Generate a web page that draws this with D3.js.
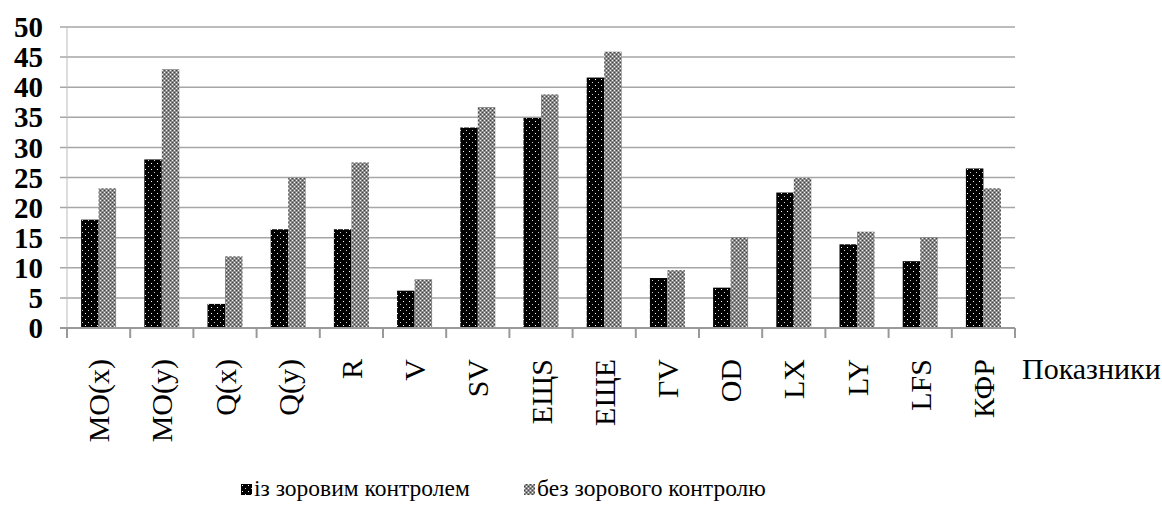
<!DOCTYPE html>
<html><head><meta charset="utf-8">
<script src="https://cdn.jsdelivr.net/npm/d3@7"></script>
<style>body{margin:0;background:#fff}svg{display:block}text{font-family:'Liberation Serif','DejaVu Serif',serif}</style>
</head><body>
<svg id="c" width="1162" height="506"></svg>
<script>
const categories = ["MO(x)","MO(y)","Q(x)","Q(y)","R","V","SV","ЕЩS","ЕЩЕ","ГV","OD","LX","LY","LFS","КФР"];
const withControl = [18, 28, 4, 16.4, 16.4, 6.2, 33.3, 34.9, 41.6, 8.3, 6.7, 22.5, 13.9, 11.1, 26.5];
const withoutControl = [23.2, 43, 11.9, 25, 27.5, 8.1, 36.7, 38.8, 45.9, 9.6, 15.1, 24.9, 16, 15.1, 23.2];
const seriesNames = ["із зоровим контролем", "без зорового контролю"];
const yTicks = [0,5,10,15,20,25,30,35,40,45,50];
const xTitle = "Показники";

const svg = d3.select("#c");
const m = {l:67, r:1015, t:27, b:328};

const defs = svg.append("defs");
const p1 = defs.append("pattern").attr("id","pBlack").attr("patternUnits","userSpaceOnUse").attr("width",6).attr("height",6);
p1.append("rect").attr("width",6).attr("height",6).attr("fill","#000");
p1.append("rect").attr("x",1).attr("y",1).attr("width",1).attr("height",1).attr("fill","#fff");
p1.append("rect").attr("x",4).attr("y",4).attr("width",1).attr("height",1).attr("fill","#ccc");
const p2 = defs.append("pattern").attr("id","pGray").attr("patternUnits","userSpaceOnUse").attr("width",4).attr("height",4);
p2.append("rect").attr("width",4).attr("height",4).attr("fill","#8a8a8a");
p2.append("rect").attr("x",0).attr("y",0).attr("width",1).attr("height",1).attr("fill","#eee");
p2.append("rect").attr("x",2).attr("y",2).attr("width",1).attr("height",1).attr("fill","#eee");
p2.append("rect").attr("x",2).attr("y",0).attr("width",1).attr("height",1).attr("fill","#444");
p2.append("rect").attr("x",0).attr("y",2).attr("width",1).attr("height",1).attr("fill","#444");

const x = d3.scaleBand().domain(categories).range([m.l, m.r]);
const y = d3.scaleLinear().domain([0,50]).range([m.b, m.t]);

// gridlines
svg.append("g").selectAll("line").data(yTicks.slice(1)).join("line")
  .attr("x1", m.l-7).attr("x2", m.r).attr("y1", d=>y(d)).attr("y2", d=>y(d))
  .attr("stroke","#a6a6a6").attr("stroke-width",1.5);
// left axis
svg.append("line").attr("x1",m.l).attr("x2",m.l).attr("y1",m.t).attr("y2",m.b)
  .attr("stroke","#bbb").attr("stroke-width",1);
// y labels
svg.append("g").selectAll("text").data(yTicks).join("text")
  .attr("x", 43).attr("y", d=>y(d)).attr("dy","0.35em").attr("text-anchor","end")
  .attr("font-size",29).attr("font-weight","bold").text(d=>d);

// bars
const bw = 17.5;
const g = svg.append("g");
g.selectAll("rect.a").data(categories).join("rect").attr("class","a")
  .attr("x", d=>x(d)+x.bandwidth()/2-bw).attr("width", bw)
  .attr("y", (d,i)=>y(withControl[i])).attr("height",(d,i)=>y(0)-y(withControl[i]))
  .attr("fill","url(#pBlack)");
g.selectAll("rect.b").data(categories).join("rect").attr("class","b")
  .attr("x", d=>x(d)+x.bandwidth()/2).attr("width", bw)
  .attr("y", (d,i)=>y(withoutControl[i])).attr("height",(d,i)=>y(0)-y(withoutControl[i]))
  .attr("fill","url(#pGray)");

// x axis
svg.append("line").attr("x1",m.l-7).attr("x2",m.r).attr("y1",m.b).attr("y2",m.b)
  .attr("stroke","#999").attr("stroke-width",2);
const bounds = categories.map(c=>x(c)).concat([m.r]);
svg.append("g").selectAll("line").data(bounds).join("line")
  .attr("x1",d=>d).attr("x2",d=>d).attr("y1",m.b).attr("y2",m.b+10)
  .attr("stroke","#999").attr("stroke-width",2);
svg.append("g").selectAll("text").data(categories).join("text")
  .attr("transform", d=>`translate(${x(d)+x.bandwidth()/2},359) rotate(-90)`)
  .attr("dy","0.35em").attr("text-anchor","end")
  .attr("font-size",30).text(d=>d);
svg.append("text").attr("x",1022).attr("y",379).attr("font-size",30).text(xTitle);

// legend
const leg = [{x:241, name:seriesNames[0], f:"url(#pBlack)"},{x:524, name:seriesNames[1], f:"url(#pGray)"}];
const lg = svg.append("g").selectAll("g").data(leg).join("g").attr("transform",d=>`translate(${d.x},484)`);
lg.append("rect").attr("width",11).attr("height",11).attr("fill",d=>d.f);
lg.append("text").attr("x",13).attr("y",12).attr("font-size",23.5).text(d=>d.name);
</script>
</body></html>
